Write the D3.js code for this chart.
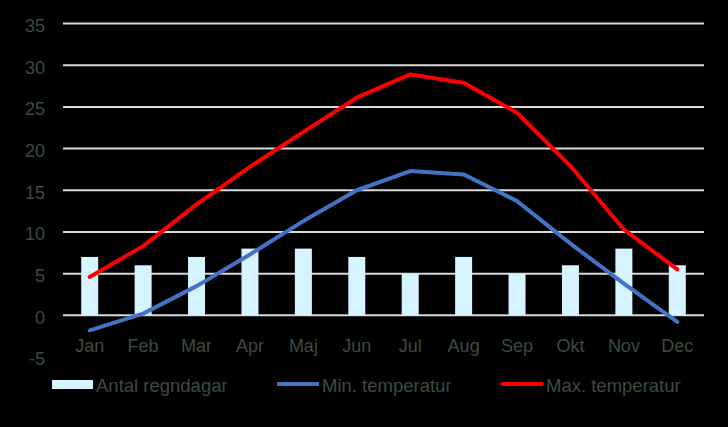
<!DOCTYPE html>
<html><head><meta charset="utf-8">
<script src="https://cdn.jsdelivr.net/npm/d3@7"></script>
<style>html,body{margin:0;padding:0;background:#000;}svg{display:block;}</style>
</head><body>
<svg id="c" width="728" height="427"></svg>
<script>
const months = ["Jan","Feb","Mar","Apr","Maj","Jun","Jul","Aug","Sep","Okt","Nov","Dec"];
const rainDays = [7,6,7,8,8,7,5,7,5,6,8,6];
const minTemp = [-1.8,0.2,3.5,7.3,11.3,15.0,17.3,16.9,13.7,8.6,3.8,-0.8];
const maxTemp = [4.6,8.3,13.3,17.8,22.0,26.1,28.9,27.9,24.3,17.9,10.3,5.5];
const yTicks = [-5,0,5,10,15,20,25,30,35];
const legendLabels = ["Antal regndagar","Min. temperatur","Max. temperatur"];

const textCol = "#3d4b41", gridCol = "#d9d9d9", barCol = "#d5f4ff", minCol = "#4472c4", maxCol = "#ff0000";
const font = "'Liberation Sans', Arial, sans-serif";

const svg = d3.select("#c");
svg.append("rect").attr("width",728).attr("height",427).attr("fill","#000");

const x = d3.scaleBand().domain(months).range([63,704]);
const y = d3.scaleLinear().domain([-5,35]).range([357,23.5]);

// gridlines (0..35)
svg.append("g").selectAll("line").data(yTicks.filter(t=>t>=0)).join("line")
  .attr("x1",63).attr("x2",704).attr("y1",d=>y(d)).attr("y2",d=>y(d))
  .attr("stroke",gridCol).attr("stroke-width",2);

// y axis
const yAxis = d3.axisLeft(y).tickValues(yTicks).tickSize(0).tickPadding(0).tickFormat(d=>String(d));
const gy = svg.append("g").attr("transform","translate(45,1.5)").call(yAxis);
gy.select(".domain").remove();
gy.selectAll("text").attr("fill",textCol).attr("font-family",font).attr("font-size",18).attr("dy","0.35em");

// x axis
const xAxis = d3.axisBottom(x).tickSize(0).tickPadding(0);
const gx = svg.append("g").attr("transform","translate(0,339)").call(xAxis);
gx.select(".domain").remove();
gx.selectAll("text").attr("fill",textCol).attr("font-family",font).attr("font-size",18).attr("dy","0.71em");

// bars
const bw = 17;
svg.append("g").selectAll("rect").data(rainDays).join("rect")
  .attr("x",(d,i)=>x(months[i])+x.bandwidth()/2-bw/2)
  .attr("width",bw)
  .attr("y",d=>y(d)).attr("height",d=>y(0)-y(d))
  .attr("fill",barCol);

const line = d3.line().x((d,i)=>x(months[i])+x.bandwidth()/2).y(d=>y(d));
svg.append("path").datum(minTemp).attr("d",line).attr("fill","none")
  .attr("stroke",minCol).attr("stroke-width",4).attr("stroke-linecap","round").attr("stroke-linejoin","round");
svg.append("path").datum(maxTemp).attr("d",line).attr("fill","none")
  .attr("stroke",maxCol).attr("stroke-width",4).attr("stroke-linecap","round").attr("stroke-linejoin","round");

// legend
const lg = svg.append("g").attr("font-family",font).attr("font-size",18.5).attr("fill",textCol);
lg.append("rect").attr("x",52).attr("y",380).attr("width",41).attr("height",9).attr("fill",barCol);
lg.append("text").attr("x",96).attr("y",385.5).attr("dy","0.35em").text(legendLabels[0]);
lg.append("line").attr("x1",277).attr("x2",319).attr("y1",384).attr("y2",384).attr("stroke",minCol).attr("stroke-width",4);
lg.append("text").attr("x",322).attr("y",385.5).attr("dy","0.35em").text(legendLabels[1]);
lg.append("line").attr("x1",501).attr("x2",543).attr("y1",384).attr("y2",384).attr("stroke",maxCol).attr("stroke-width",4);
lg.append("text").attr("x",546).attr("y",385.5).attr("dy","0.35em").text(legendLabels[2]);
</script>
</body></html>
